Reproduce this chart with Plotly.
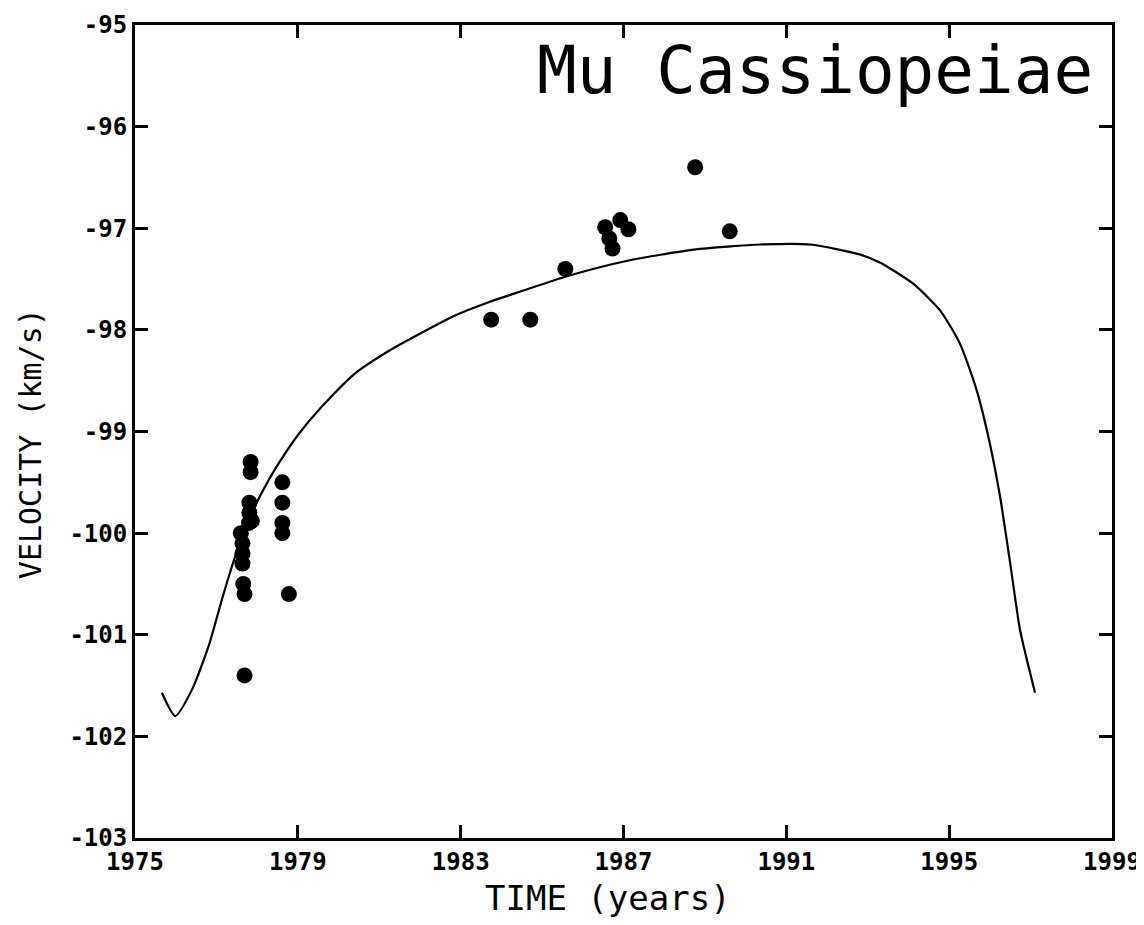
import plotly.graph_objects as go

# Observed radial velocities (year, km/s)
obs_year = [1977.84, 1977.84, 1977.81, 1977.81, 1977.80, 1977.87, 1977.60, 1977.64,
            1977.64, 1977.64, 1977.66, 1977.69, 1977.69,
            1978.62, 1978.62, 1978.62, 1978.62, 1978.78,
            1983.75, 1984.71, 1985.57, 1986.55, 1986.65, 1986.73, 1986.92,
            1987.12, 1988.76, 1989.61]
obs_vel = [-99.30, -99.40, -99.70, -99.80, -99.90, -99.88, -100.00, -100.10,
           -100.20, -100.30, -100.50, -100.60, -101.40,
           -99.50, -99.70, -99.90, -100.00, -100.60,
           -97.90, -97.90, -97.40, -96.99, -97.10, -97.20, -96.92,
           -97.01, -96.40, -97.03]

# Orbit fit curve
fit_year = [1975.66, 1975.99, 1976.40, 1976.81, 1977.13, 1977.46, 1977.79, 1978.28,
            1978.68, 1979.05, 1979.58, 1980.40, 1981.22, 1982.03, 1982.85, 1983.67,
            1984.49, 1985.63, 1987.10, 1988.73, 1990.37, 1991.59, 1992.82, 1993.31,
            1994.13, 1994.78, 1995.27, 1995.68, 1996.00, 1996.25, 1996.50, 1996.74,
            1997.11]
fit_vel = [-101.57, -101.80, -101.54, -101.11, -100.66, -100.23, -99.87, -99.48,
           -99.22, -99.01, -98.76, -98.43, -98.21, -98.03, -97.86, -97.73,
           -97.62, -97.47, -97.32, -97.21, -97.16, -97.16, -97.26, -97.34,
           -97.55, -97.81, -98.14, -98.60, -99.12, -99.64, -100.30, -100.95,
           -101.57]

x_ticks = [1975, 1979, 1983, 1987, 1991, 1995, 1999]
y_ticks = [-95, -96, -97, -98, -99, -100, -101, -102, -103]

FONT = "DejaVu Sans Mono"

fig = go.Figure()
fig.add_trace(go.Scatter(x=fit_year, y=fit_vel, mode="lines",
                         line=dict(color="black", width=2.2, shape="spline", smoothing=0.6),
                         showlegend=False, hoverinfo="skip"))
fig.add_trace(go.Scatter(x=obs_year, y=obs_vel, mode="markers",
                         marker=dict(color="black", size=16), showlegend=False))

axis_common = dict(showline=True, linecolor="black", linewidth=3, mirror="ticks",
                   ticks="inside", ticklen=13, tickwidth=2.5, tickcolor="black",
                   showgrid=False, zeroline=False, automargin=False,
                   tickfont=dict(family=FONT, size=24, color="black", weight="bold"))

fig.update_layout(
    width=1136, height=917,
    margin=dict(l=127, r=32, t=17, b=87),
    plot_bgcolor="white", paper_bgcolor="white",
    xaxis=dict(range=[1975, 1999], tickvals=x_ticks, ticktext=[str(v) for v in x_ticks],
               **axis_common),
    yaxis=dict(range=[-103, -95], tickvals=y_ticks, ticktext=[str(v).replace("\u2212", "-") for v in y_ticks],
               **axis_common),
    annotations=[
        dict(text="Mu Cassiopeiae", xref="paper", yref="paper", x=0.983, y=0.994,
             xanchor="right", yanchor="top", showarrow=False,
             font=dict(family=FONT, size=66, color="black", weight=300)),
        dict(text="TIME (years)", xref="paper", yref="paper", x=0.484, y=-0.074,
             xanchor="center", yanchor="middle", showarrow=False,
             font=dict(family=FONT, size=34, color="black")),
        dict(text="VELOCITY (km/s)", xref="paper", yref="paper", x=-0.107, y=0.485,
             xanchor="center", yanchor="middle", showarrow=False, textangle=-90,
             font=dict(family=FONT, size=30, color="black")),
    ],
)

fig.write_html("out.html")
